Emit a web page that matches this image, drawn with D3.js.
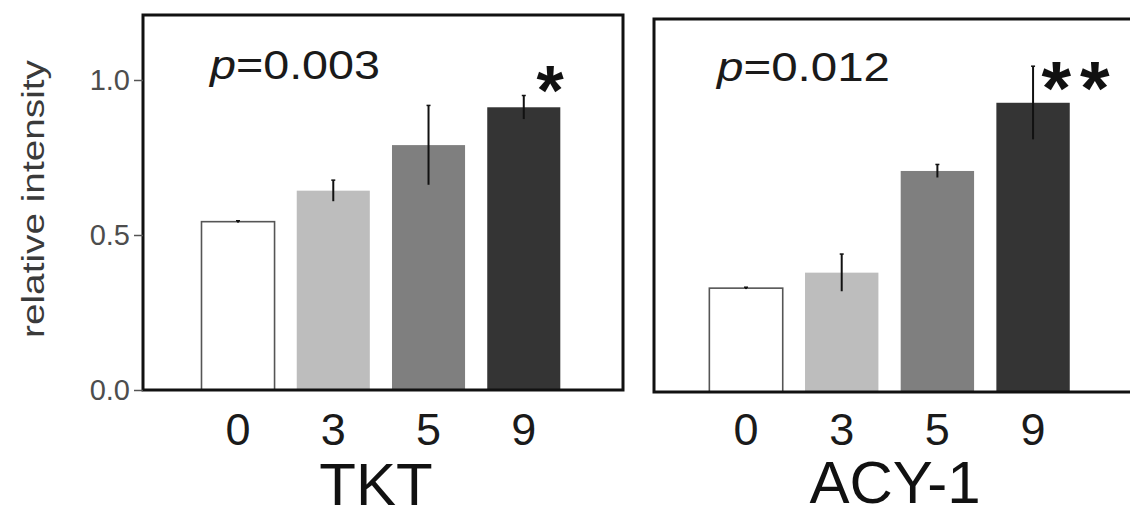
<!DOCTYPE html>
<html>
<head>
<meta charset="utf-8">
<script src="https://cdn.jsdelivr.net/npm/d3@7"></script>
<style>
  html, body { margin: 0; padding: 0; background: #fff; }
  svg { display: block; font-family: "Liberation Sans", Arial, sans-serif; }
</style>
</head>
<body>
<svg id="chart" width="1130" height="512"></svg>
<script>
// ---- data ----
const categories = ["0", "3", "5", "9"];
const genes = ["TKT", "ACY-1"];
const tktMeans = [0.543, 0.643, 0.790, 0.912];
const tktErrors = [0.003, 0.034, 0.128, 0.038];
const acyMeans = [0.335, 0.385, 0.713, 0.933];
const acyErrors = [0.003, 0.060, 0.021, 0.118];
const pValues = ["0.003", "0.012"];
const significance = ["*", "**"];
const yTicks = [0.0, 0.5, 1.0];
const yLabel = "relative intensity";
const barFills = ["#ffffff", "#bdbdbd", "#7f7f7f", "#343434"];

const svg = d3.select("#chart");

// panel layout (positions only)
const panels = [
  { gene: genes[0], means: tktMeans, errs: tktErrors, p: pValues[0], sig: significance[0],
    left: 143, right: 623, top: 15, bottom: 390, band: [190.4, 571.4],
    pX: 210, pY: 79, pLen: 170, sigX: 550, sigY: 115, sigSize: 70, sigSpacing: 0,
    labelX: 376, labelY: 505, tickY: 445, showY: true },
  { gene: genes[1], means: acyMeans, errs: acyErrors, p: pValues[1], sig: significance[1],
    left: 654, right: 1136, top: 19, bottom: 392, band: [698.2, 1080.9],
    pX: 717, pY: 81, pLen: 173, sigX: 1080, sigY: 114, sigSize: 76, sigSpacing: 9,
    labelX: 895, labelY: 503, tickY: 445, showY: false }
];

panels.forEach(P => {
  const x = d3.scaleBand().domain(categories).range(P.band)
    .paddingInner(0.233).paddingOuter(0.1165);
  const y = d3.scaleLinear().domain([0, 1]).range([P.bottom, P.bottom - 310]);
  const g = svg.append("g");

  // bars
  g.selectAll("rect.bar").data(P.means).enter().append("rect")
    .attr("class", "bar")
    .attr("x", (d, i) => x(categories[i]))
    .attr("width", x.bandwidth())
    .attr("y", d => y(d))
    .attr("height", d => y(0) - y(d))
    .attr("fill", (d, i) => barFills[i])
    .attr("stroke", (d, i) => i === 0 ? "#555" : "none")
    .attr("stroke-width", 1.6);

  // error bars
  g.selectAll("line.err").data(P.means).enter().append("line")
    .attr("class", "err")
    .attr("x1", (d, i) => x(categories[i]) + x.bandwidth() / 2)
    .attr("x2", (d, i) => x(categories[i]) + x.bandwidth() / 2)
    .attr("y1", (d, i) => y(d + P.errs[i]))
    .attr("y2", (d, i) => y(d - P.errs[i]))
    .attr("stroke", "#111").attr("stroke-width", 2);
  g.selectAll("line.cap").data(P.means).enter().append("line")
    .attr("class", "cap")
    .attr("x1", (d, i) => x(categories[i]) + x.bandwidth() / 2 - 2)
    .attr("x2", (d, i) => x(categories[i]) + x.bandwidth() / 2 + 2)
    .attr("y1", (d, i) => y(d + P.errs[i]))
    .attr("y2", (d, i) => y(d + P.errs[i]))
    .attr("stroke", "#111").attr("stroke-width", 1.5);

  // panel border
  g.append("rect")
    .attr("x", P.left).attr("y", P.top)
    .attr("width", P.right - P.left).attr("height", P.bottom - P.top)
    .attr("fill", "none").attr("stroke", "#111").attr("stroke-width", 3);

  // y axis
  if (P.showY) {
    const yAxis = d3.axisLeft(y).tickValues(yTicks).tickFormat(d3.format(".1f"))
      .tickSize(9).tickPadding(4);
    const ya = g.append("g").attr("transform", `translate(${P.left},0)`).call(yAxis);
    ya.select(".domain").remove();
    ya.selectAll(".tick line").attr("stroke", "#555").attr("stroke-width", 1.5);
    ya.selectAll(".tick text").attr("fill", "#4d4d4d")
      .style("font-size", "29px").style("font-family", "Liberation Sans, Arial, sans-serif");
  }

  // x tick labels
  const xAxis = d3.axisBottom(x).tickSize(0).tickPadding(0);
  const xa = g.append("g").attr("transform", `translate(0,${P.tickY})`).call(xAxis);
  xa.select(".domain").remove();
  xa.selectAll(".tick text").attr("fill", "#1a1a1a").attr("dy", 0).attr("y", 0)
    .style("font-size", "45px").style("font-family", "Liberation Sans, Arial, sans-serif");

  // gene label
  g.append("text").attr("x", P.labelX).attr("y", P.labelY)
    .attr("text-anchor", "middle").attr("fill", "#111")
    .style("font-size", "60px").text(P.gene);

  // p value
  const pt = g.append("text").attr("x", P.pX).attr("y", P.pY)
    .attr("fill", "#1a1a1a").style("font-size", "41px")
    .attr("textLength", P.pLen).attr("lengthAdjust", "spacingAndGlyphs");
  pt.append("tspan").style("font-style", "italic").text("p");
  pt.append("tspan").text("=" + P.p);

  // significance stars
  g.append("text").attr("x", P.sigX).attr("y", P.sigY)
    .attr("text-anchor", "middle").attr("fill", "#111")
    .style("font-size", P.sigSize + "px").style("font-weight", "bold")
    .style("letter-spacing", P.sigSpacing + "px")
    .text(P.sig);
});

// y axis title
svg.append("text")
  .attr("transform", "translate(44,199) rotate(-90)")
  .attr("text-anchor", "middle").attr("fill", "#3a3a3a")
  .style("font-size", "31px")
  .attr("textLength", 278).attr("lengthAdjust", "spacingAndGlyphs")
  .text(yLabel);
</script>
</body>
</html>
